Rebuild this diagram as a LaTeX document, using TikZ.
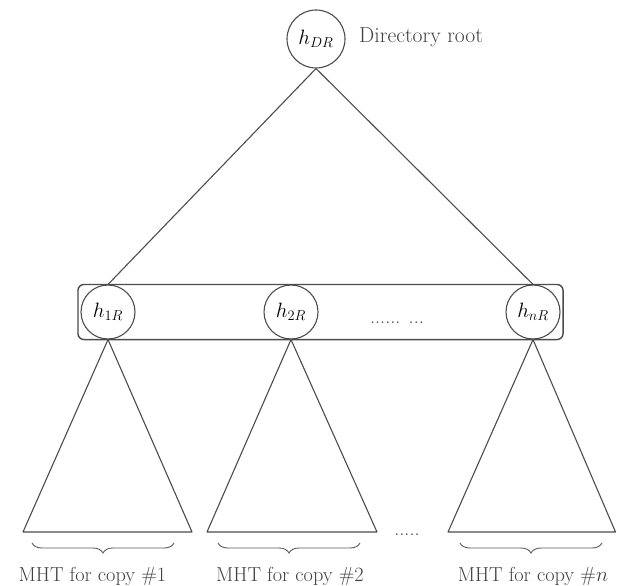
\documentclass[tikz,border=0pt]{standalone}
\usetikzlibrary{fit,decorations.pathreplacing}
\begin{document}
\begin{tikzpicture}[x=1pt,y=-1pt,
  ln/.style={line width=1.1pt, draw=black!70, line join=round},
  hnode/.style={circle, draw=black!70, line width=1.1pt, minimum size=54pt, inner sep=0pt, font=\fontsize{20}{24}\selectfont},
  lbl/.style={font=\fontsize{20.3}{24}\selectfont, text=black!75, inner sep=0pt, anchor=base},
  brc/.style={decorate, decoration={brace, mirror, amplitude=10pt}, line width=0.9pt, draw=black!65}]
\useasboundingbox (0,0) rectangle (617,585);
% nodes
\node[hnode, minimum size=58pt] (root) at (316,39) {$h_{DR}$};
\node[lbl, anchor=base west, font=\fontsize{21.6}{26}\selectfont] (rootlbl) at (359,43) {Directory root};
\node[hnode] (h1) at (108,312) {$h_{1R}$};
\node[hnode] (h2) at (291,312) {$h_{2R}$};
\node[hnode] (hn) at (533,312) {$h_{nR}$};
\node[fit=(h1)(hn), draw=black!70, line width=1.4pt, rounded corners=6pt, inner xsep=2.5pt, inner ysep=0pt] (grp) {};
\node[lbl] (dots) at (397,323) {...... ...};
% connectors
\draw[ln] (root.south) -- (h1.north);
\draw[ln] (root.south) -- (hn.north);
% triangles
\coordinate (a1) at (23,532);  \coordinate (b1) at (192,532);
\coordinate (a2) at (207,532); \coordinate (b2) at (377,532);
\coordinate (a3) at (448,532); \coordinate (b3) at (615.5,532);
\draw[ln] (h1.south) -- (a1) -- (b1) -- cycle;
\draw[ln] (h2.south) -- (a2) -- (b2) -- cycle;
\draw[ln] (hn.south) -- (a3) -- (b3) -- cycle;
\node[lbl] (dots2) at (407,535) {.....};
% braces
\coordinate (c1) at (32,543);  \coordinate (d1) at (174,543);
\coordinate (c2) at (218,543); \coordinate (d2) at (360,543);
\coordinate (c3) at (460,543); \coordinate (d3) at (602,543);
\draw[brc] (c1) -- (d1);
\draw[brc] (c2) -- (d2);
\draw[brc] (c3) -- (d3);
% labels
\node[lbl] (l1) at (92.5,581) {MHT for copy \#1};
\node[lbl] (l2) at (290,581) {MHT for copy \#2};
\node[lbl] (l3) at (533,581) {MHT for copy \#$n$};
\end{tikzpicture}
\end{document}
